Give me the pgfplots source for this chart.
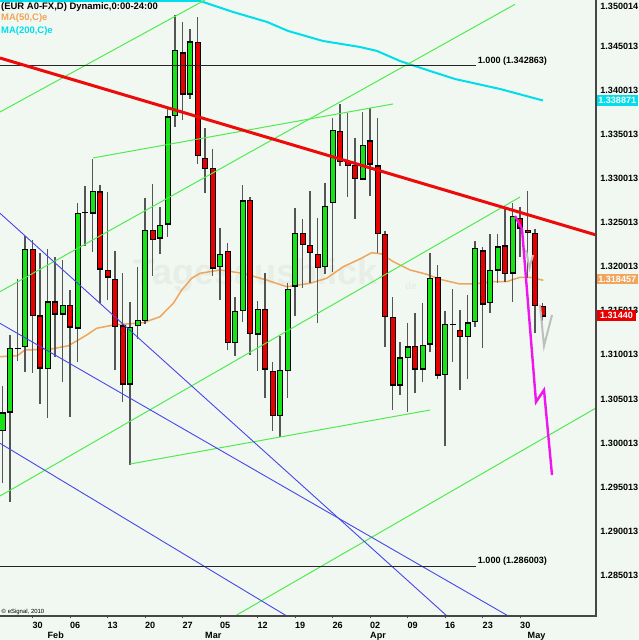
\documentclass[border=0pt]{standalone}
\usepackage{pgfplots}
\pgfplotsset{compat=1.18}
\usepackage{pgfplotstable}
\usepackage{fontspec}
\setmainfont{Liberation Sans}

\definecolor{bgc}{RGB}{241,248,241}
\definecolor{cgreen}{RGB}{24,226,24}
\definecolor{cred}{RGB}{232,0,0}
\definecolor{wick}{RGB}{85,85,85}
\definecolor{tlgreen}{RGB}{80,235,80}
\definecolor{tlblue}{RGB}{70,70,235}
\definecolor{macyan}{RGB}{0,222,235}
\definecolor{maorange}{RGB}{240,165,90}
\definecolor{trendred}{RGB}{236,10,10}
\definecolor{proj}{RGB}{240,20,240}
\definecolor{projgray}{RGB}{190,190,190}
\definecolor{axisgray}{RGB}{70,70,70}
\definecolor{wmark}{RGB}{230,238,230}

% daily EUR/USD candles, index 0 = 24 Jan 2012
\pgfplotstableread{
i o h l c
0 1.30141 1.30648 1.29548 1.30345
1 1.30353 1.31226 1.29332 1.31078
2 1.31075 1.31861 1.30934 1.31078
3 1.31093 1.32348 1.30803 1.32197
4 1.32197 1.32303 1.30798 1.31445
5 1.31445 1.32152 1.30440 1.30848
6 1.30848 1.32197 1.30281 1.31603
7 1.31603 1.32114 1.30980 1.31464
8 1.31464 1.32076 1.30690 1.31563
9 1.31563 1.31736 1.30300 1.31313
10 1.31302 1.32719 1.30916 1.32606
11 1.32617 1.32915 1.32235 1.32620
12 1.32606 1.33218 1.32170 1.32858
13 1.32851 1.32927 1.31585 1.31971
14 1.31963 1.32851 1.31623 1.31880
15 1.31861 1.32178 1.30829 1.31320
16 1.31331 1.31925 1.30463 1.30667
17 1.30667 1.31603 1.29752 1.31313
18 1.31328 1.32000 1.31180 1.31392
19 1.31388 1.32782 1.31350 1.32416
20 1.32416 1.32938 1.31895 1.32311
21 1.32322 1.32680 1.32141 1.32473
22 1.32484 1.33800 1.32334 1.33701
23 1.33709 1.34854 1.33581 1.34457
24 1.34427 1.34778 1.33663 1.33955
25 1.33955 1.34692 1.33898 1.34551
26 1.34544 1.34835 1.33161 1.33255
27 1.33229 1.33569 1.32839 1.33116
28 1.33116 1.33335 1.31895 1.31982
29 1.32000 1.32436 1.31623 1.32141
30 1.32178 1.32272 1.31056 1.31139
31 1.31139 1.31660 1.30988 1.31498
32 1.31501 1.32927 1.31377 1.32749
33 1.32756 1.32794 1.30999 1.31245
34 1.31234 1.31611 1.30818 1.31517
35 1.31517 1.31932 1.30515 1.30840
36 1.30818 1.30923 1.30137 1.30311
37 1.30307 1.31214 1.30066 1.30829
38 1.30818 1.31812 1.30515 1.31744
39 1.31781 1.32662 1.31441 1.32379
40 1.32379 1.32538 1.31755 1.32254
41 1.32246 1.32862 1.31812 1.32159
42 1.32141 1.32556 1.31365 1.31989
43 1.32000 1.32953 1.31917 1.32688
44 1.32726 1.33683 1.31944 1.33550
45 1.33539 1.33845 1.33145 1.33191
46 1.33199 1.33739 1.32787 1.33145
47 1.33153 1.33463 1.32541 1.33002
48 1.32995 1.33758 1.32983 1.33380
49 1.33429 1.33796 1.32805 1.33161
50 1.33145 1.33683 1.32152 1.32371
51 1.32371 1.32405 1.31093 1.31433
52 1.31427 1.31660 1.30375 1.30659
53 1.30659 1.31150 1.30546 1.30968
54 1.30973 1.31365 1.30356 1.31093
55 1.31101 1.31472 1.30565 1.30837
56 1.30837 1.31592 1.30696 1.31112
57 1.31120 1.32152 1.31036 1.31869
58 1.31880 1.32019 1.30724 1.30772
59 1.30780 1.31498 1.29971 1.31350
60 1.31347 1.31747 1.30923 1.31349
61 1.31283 1.31509 1.30602 1.31207
62 1.31207 1.31679 1.30724 1.31365
63 1.31377 1.32292 1.31313 1.32209
64 1.32182 1.32224 1.31075 1.31577
65 1.31592 1.32371 1.31479 1.31963
66 1.31963 1.32371 1.31819 1.32227
67 1.32238 1.32669 1.31823 1.31925
68 1.31925 1.32719 1.31597 1.32575
69 1.32549 1.32680 1.32114 1.32436
70 1.32416 1.32858 1.31869 1.32390
71 1.32379 1.32428 1.31245 1.31558
72 1.31555 1.31592 1.31388 1.31440
}\ohlc

\begin{document}
\begin{tikzpicture}[x=1bp,y=1bp,font=\fontsize{9.1}{10}\selectfont\bfseries]
\fill[bgc] (0,-24) rectangle (639,616);
\node[anchor=base west, inner sep=0pt, text=wmark, font=\fontsize{36}{36}\selectfont\bfseries] at (133,331) {Tagesausblick};
\node[anchor=base west, inner sep=0pt, text=wmark, font=\fontsize{10}{10}\selectfont\bfseries] at (405,326) {de};
\begin{axis}[
  at={(0,0)}, anchor=south west,
  scale only axis, width=596bp, height=616bp,
  xmin=-0.33333, xmax=79.13333,
  ymin=1.28040, ymax=1.35024,
  clip mode=individual,
  axis line style={draw=none},
  tick align=outside,
  major tick length=2.5bp,
  xtick={4,9,14,19,24,29,34,39,44,49,54,59,64,69},
  xticklabels={30,06,13,20,27,05,12,19,26,02,09,16,23,30},
  x tick style={draw=axisgray, line width=1bp},
  xticklabel style={anchor=north west, inner sep=0pt, yshift=-3.6bp},
  extra x ticks={6,27,49,70},
  extra x tick labels={Feb,Mar,Apr,May},
  extra x tick style={major tick length=0pt, xticklabel style={yshift=-12bp}},
  ytick={1.285013,1.290013,1.295013,1.300013,1.305013,1.310013,1.315013,1.320013,1.325013,1.330013,1.335013,1.340013,1.345013},
  yticklabels={1.285013,1.290013,1.295013,1.300013,1.305013,1.310013,1.315013,1.320013,1.325013,1.330013,1.335013,1.340013,1.345013},
  yticklabel pos=right,
  y tick style={draw=none},
  yticklabel style={anchor=west, inner sep=0pt, xshift=1.7bp},
  extra y ticks={1.350014},
  extra y tick labels={1.350014},
  extra y tick style={yticklabel style={yshift=-4bp}},
  ticklabel style={font=\fontsize{9.1}{10}\selectfont\bfseries},
]
% moving averages
\addplot[maorange, line width=1.5bp] coordinates {(-0.333,1.30980) (1.973,1.30991) (3,1.31056) (6.333,1.31064) (8.773,1.31104) (10.107,1.31169) (11.227,1.31226) (12.56,1.31302) (14.773,1.31339) (18.773,1.31365) (21,1.31433) (22.773,1.31585) (23.893,1.31736) (25.227,1.31869) (26.333,1.31925) (29,1.31963) (32.067,1.31925) (35.227,1.31849) (37.893,1.31773) (41,1.31812) (43.227,1.31869) (45.44,1.32000) (47.667,1.32088) (49.227,1.32159) (50.56,1.32144) (52.107,1.32057) (54.333,1.31963) (56.56,1.31914) (58.333,1.31857) (61,1.31804) (62.773,1.31804) (65.44,1.31830) (67.227,1.31830) (69,1.31880) (70.333,1.31880) (72.107,1.31846)};
\addplot[macyan, line width=2bp] coordinates {(-0.333,1.35013) (26.333,1.35013) (30.733,1.34888) (35.267,1.34775) (38.067,1.34673) (42.733,1.34559) (47.667,1.34491) (49.933,1.34446) (53,1.34332) (57,1.34219) (60.333,1.34128) (66.333,1.34015) (72.067,1.33884)};
% candles: wicks, outline, bodies
\addplot[draw=none, mark=none, error bars/.cd, y dir=both, y explicit, error mark=none,
  error bar style={draw=wick, solid, line width=1.4bp}]
  table[x=i, y expr={(\thisrow{h}+\thisrow{l})/2}, y error expr={(\thisrow{h}-\thisrow{l})/2}] {\ohlc};
\addplot[draw=none, mark=none, error bars/.cd, y dir=both, y explicit, error mark=none,
  error bar style={draw=black, solid, line width=6bp}]
  table[x=i, y expr={(\thisrow{o}+\thisrow{c})/2}, y error expr={abs(\thisrow{c}-\thisrow{o})/2+0.00005}] {\ohlc};
\addplot[draw=none, mark=none, restrict expr to domain={\thisrow{c}-\thisrow{o}}{0:1},
  error bars/.cd, y dir=both, y explicit, error mark=none,
  error bar style={draw=cgreen, solid, line width=4bp}]
  table[x=i, y expr={(\thisrow{o}+\thisrow{c})/2}, y error expr={max(abs(\thisrow{c}-\thisrow{o})/2-0.0001,0)}] {\ohlc};
\addplot[draw=none, mark=none, restrict expr to domain={\thisrow{c}-\thisrow{o}}{-1:0},
  error bars/.cd, y dir=both, y explicit, error mark=none,
  error bar style={draw=cred, solid, line width=4bp}]
  table[x=i, y expr={(\thisrow{o}+\thisrow{c})/2}, y error expr={max(abs(\thisrow{c}-\thisrow{o})/2-0.0001,0)}] {\ohlc};
% trend lines
\addplot[tlgreen, line width=1bp] coordinates {(-0.333,1.31717) (68.333,1.34975)};
\addplot[tlgreen, line width=1bp] coordinates {(-0.333,1.29400) (69,1.32790)};
\addplot[tlgreen, line width=1bp] coordinates {(31,1.28040) (79.133,1.30398)};
\addplot[tlgreen, line width=1bp] coordinates {(12.067,1.33233) (52.067,1.33845)};
\addplot[tlgreen, line width=1bp] coordinates {(17,1.29763) (57,1.30375)};
\addplot[tlgreen, line width=1bp] coordinates {(-0.333,1.33754) (27,1.35024)};
\addplot[tlblue, line width=0.9bp] coordinates {(-0.333,1.32606) (59.267,1.28040)};
\addplot[tlblue, line width=0.9bp] coordinates {(-0.333,1.31358) (67.44,1.28040)};
\addplot[tlblue, line width=0.9bp] coordinates {(-0.333,1.29998) (37.893,1.28040)};
\addplot[black!85, line width=0.9bp] coordinates {(-0.333,1.342863) (63.09,1.342863)};
\addplot[black!85, line width=0.9bp] coordinates {(-0.333,1.286003) (63.09,1.286003)};
\addplot[trendred, line width=3bp] coordinates {(-0.333,1.34366) (79.133,1.32360)};
% projections
\addplot[projgray, line width=2bp] coordinates {(69.8,1.32190) (70.267,1.31985) (70.733,1.32133)};
\addplot[projgray, line width=2bp] coordinates {(71.667,1.31566) (72.2,1.31101) (73.267,1.31453)};
\addplot[proj, line width=2.4bp] coordinates {(68.333,1.32575) (69.267,1.32428) (71.133,1.30466) (72.2,1.30602) (73.267,1.29638)};
\end{axis}
% frame
\draw[axisgray, line width=1.6bp] (0,0) -- (596,0) -- (596,616);
% legend / header texts
\node[anchor=base west, inner sep=0pt, font=\fontsize{9.5}{10}\selectfont\bfseries] at (1,606.7) {(EUR A0-FX,D) Dynamic,0:00-24:00};
\node[anchor=base west, inner sep=0pt, text=maorange, font=\fontsize{9.5}{10}\selectfont\bfseries] at (1,595.3) {MA(50,C)e};
\node[anchor=base west, inner sep=0pt, text=macyan, font=\fontsize{9.5}{10}\selectfont\bfseries] at (1,582) {MA(200,C)e};
\node[anchor=base west, inner sep=0pt, font=\fontsize{6}{7}\selectfont] at (1.5,2.5) {© eSignal, 2010};
\node[anchor=base west, inner sep=0pt] at (477.7,552.7) {1.000 (1.342863)};
\node[anchor=base west, inner sep=0pt] at (477.7,52) {1.000 (1.286003)};
% last-value boxes
\node[fill=macyan, text=white, anchor=west, inner sep=0pt, minimum width=40.5bp, minimum height=10.5bp] at (596.8,515.3) {1.338871};
\node[fill=maorange, text=white, anchor=west, inner sep=0pt, minimum width=40.5bp, minimum height=10.5bp] at (596.8,337) {1.318457};
\node[fill=cred, text=white, anchor=west, inner sep=0pt, minimum width=39bp, minimum height=10.5bp] at (596.8,300.5) {1.31440};
\pgfresetboundingbox
\path (0,-24) rectangle (639,616);
\end{tikzpicture}
\end{document}
